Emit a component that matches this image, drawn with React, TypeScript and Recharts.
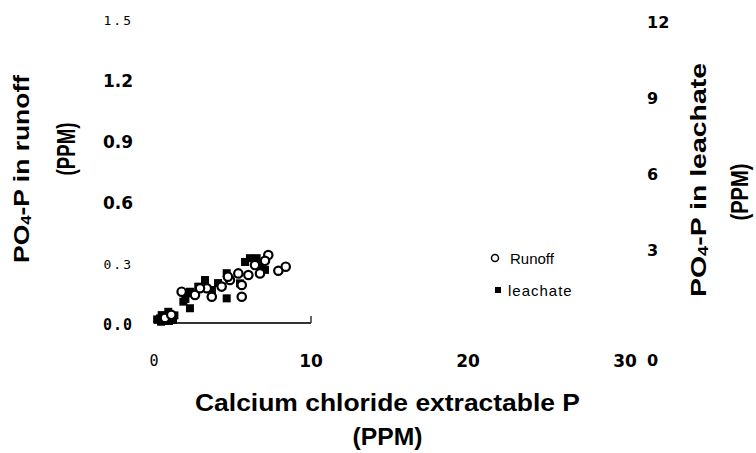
import React from 'react';
import { ScatterChart, Scatter, XAxis, YAxis, Legend, ReferenceLine } from 'recharts';

const xTicks = [0, 10, 20, 30];
const xTickLabels = ['0', '10', '20', '30'];
const leftTicks = [0, 0.3, 0.6, 0.9, 1.2, 1.5];
const leftTickLabels = ['0.0', '0.3', '0.6', '0.9', '1.2', '1.5'];
const rightTicks = [0, 3, 6, 9, 12];
const rightTickLabels = ['0', '3', '6', '9', '12'];

const runoffX = [7.28, 7.07, 6.43, 7.92, 8.39, 6.75, 6.01, 5.37, 4.84, 4.31, 5.59, 3.68, 5.59, 1.76, 3.36, 2.61, 2.93, 4.71, 0.7, 1.1];
const runoffY = [0.334, 0.306, 0.285, 0.257, 0.277, 0.244, 0.236, 0.244, 0.212, 0.179, 0.187, 0.129, 0.129, 0.154, 0.171, 0.138, 0.171, 0.228, 0.025, 0.04];

const leachateX = [6.11, 6.54, 7.07, 4.63, 5.48, 4.63, 3.25, 2.82, 2.29, 1.87, 2.29, 0.38, 0.91, 1.13, 0.57, 4.08, 3.69, 2.08, 0.49, 1.21, 5.8, 6.75, 0.2, 0.75, 0.95, 0.45, 1.3, 2.0];
const leachateY = [2.55, 2.55, 2.09, 1.96, 1.56, 0.97, 1.69, 1.43, 1.23, 0.84, 0.58, 0.18, 0.44, 0.18, 0.12, 1.57, 1.3, 1.17, 0.31, 0.12, 2.4, 2.28, 0.14, 0.28, 0.08, 0.05, 0.3, 0.95];

const runoffData = runoffX.map((x, i) => ({ x, y: runoffY[i] }));
const leachateData = leachateX.map((x, i) => ({ x, y: leachateY[i] }));

const thinFont = { fontFamily: 'DejaVu Sans Mono', fontSize: 13, fontWeight: 400, letterSpacing: 2 };
const boldFont = { fontFamily: 'DejaVu Sans', fontSize: 17, fontWeight: 700 };
const blockFont = { fontFamily: 'DejaVu Sans Mono', fontSize: 15, fontWeight: 700, letterSpacing: 1 };

const findIdx = (arr: number[], v: number) => arr.findIndex((t) => Math.abs(t - v) < 1e-9);

const LeftTick = (props: any) => {
  const { x, y, payload } = props;
  const i = findIdx(leftTicks, payload.value);
  const label = leftTickLabels[i];
  const style = label === '1.5' || label === '0.3' ? thinFont : label === '0.0' ? blockFont : boldFont;
  return (
    <text x={x - 21} y={y + 2} textAnchor="end" dominantBaseline="central" fill="#000" style={style as any}>
      {label}
    </text>
  );
};

const RightTick = (props: any) => {
  const { x, y, payload } = props;
  const i = findIdx(rightTicks, payload.value);
  const label = rightTickLabels[i];
  const isZero = payload.value === 0;
  return (
    <text x={x + 22} y={isZero ? y + 37 : y + 4} textAnchor="start" dominantBaseline="central" fill="#000"
      style={{ fontFamily: 'DejaVu Sans', fontSize: 16, fontWeight: 700 }}>
      {label}
    </text>
  );
};

const BottomTick = (props: any) => {
  const { x, y, payload } = props;
  const i = findIdx(xTicks, payload.value);
  const label = xTickLabels[i];
  const style = label === '0'
    ? { fontFamily: 'DejaVu Sans Mono', fontSize: 15, fontWeight: 400 }
    : { fontFamily: 'DejaVu Sans', fontSize: 17, fontWeight: 700 };
  return (
    <text x={x} y={y + 38} textAnchor="middle" dominantBaseline="central" fill="#000" style={style as any}>
      {label}
    </text>
  );
};

const titleStyle = { fontFamily: 'Liberation Sans, Arial, sans-serif', fontWeight: 700 };

const LeftTitle = (props: any) => {
  const vb = props.viewBox || { x: 0, y: 18 };
  const x1 = vb.x + 21, y1 = vb.y + 151;
  const x2 = vb.x + 66, y2 = vb.y + 131;
  return (
    <g>
      <text transform={`translate(${x1},${y1}) rotate(-90)`} textAnchor="middle" dominantBaseline="central"
        fontSize={22} style={titleStyle} textLength={188} lengthAdjust="spacingAndGlyphs" fill="#000">
        PO<tspan fontSize={14} dy={5}>4</tspan><tspan dy={-5}>-P in runoff</tspan>
      </text>
      <text transform={`translate(${x2},${y2}) rotate(-90)`} textAnchor="middle" dominantBaseline="central"
        fontSize={25} style={titleStyle} textLength={53} lengthAdjust="spacingAndGlyphs" fill="#000">
        (PPM)
      </text>
    </g>
  );
};

const RightTitle = (props: any) => {
  const vb = props.viewBox || { x: 625, y: 18 };
  const x1 = vb.x + 73, y1 = vb.y + 162;
  const x2 = vb.x + 114, y2 = vb.y + 174;
  return (
    <g>
      <text transform={`translate(${x1},${y1}) rotate(-90)`} textAnchor="middle" dominantBaseline="central"
        fontSize={22} style={titleStyle} textLength={234} lengthAdjust="spacingAndGlyphs" fill="#000">
        PO<tspan fontSize={14} dy={5}>4</tspan><tspan dy={-5}>-P in leachate</tspan>
      </text>
      <text transform={`translate(${x2},${y2}) rotate(-90)`} textAnchor="middle" dominantBaseline="central"
        fontSize={24} style={titleStyle} textLength={57} lengthAdjust="spacingAndGlyphs" fill="#000">
        (PPM)
      </text>
    </g>
  );
};

const BottomTitle = (props: any) => {
  const vb = props.viewBox || { x: 154, y: 323, width: 471 };
  const cx = vb.x + vb.width / 2 - 2;
  return (
    <g>
      <text x={cx} y={vb.y + 79} textAnchor="middle" dominantBaseline="central" fontSize={24}
        style={titleStyle} textLength={385} lengthAdjust="spacingAndGlyphs" fill="#000">
        Calcium chloride extractable P
      </text>
      <text x={cx} y={vb.y + 113} textAnchor="middle" dominantBaseline="central" fontSize={24}
        style={titleStyle} textLength={70} lengthAdjust="spacingAndGlyphs" fill="#000">
        (PPM)
      </text>
    </g>
  );
};

const CircleShape = (props: any) => {
  const { cx, cy } = props;
  if (cx == null || cy == null) return null;
  return <circle cx={cx} cy={cy} r={4.2} fill="#fff" stroke="#000" strokeWidth={2.2} />;
};

const SquareShape = (props: any) => {
  const { cx, cy } = props;
  if (cx == null || cy == null) return null;
  return <rect x={cx - 4} y={cy - 4} width={8} height={8} fill="#000" />;
};

const LegendContent = () => (
  <svg width={110} height={56} style={{ display: 'block' }}>
    <circle cx={7} cy={10} r={3.5} fill="#fff" stroke="#000" strokeWidth={1.5} />
    <text x={22} y={10} dominantBaseline="central" fontSize={15} fontFamily="Liberation Sans, Arial, sans-serif" fill="#000">Runoff</text>
    <rect x={7} y={39} width={6} height={6} fill="#000" />
    <text x={20} y={42} dominantBaseline="central" fontSize={15} fontFamily="Liberation Sans, Arial, sans-serif" fill="#000" letterSpacing={1}>leachate</text>
  </svg>
);

export default function App() {
  return (
    <div style={{ position: 'absolute', left: 0, top: 0, background: '#fff' }}>
      <ScatterChart width={756} height={453} margin={{ top: 18, right: 0, bottom: 0, left: 0 }}>
        <XAxis type="number" dataKey="x" domain={[0, 30]} ticks={xTicks} interval={0}
          axisLine={false} tickLine={false} tickSize={0} tickMargin={0} height={130}
          tick={<BottomTick />} label={{ content: <BottomTitle /> } as any} />
        <YAxis yAxisId="left" type="number" dataKey="y" orientation="left" domain={[0, 1.5]} ticks={leftTicks}
          interval={0} axisLine={false} tickLine={false} tickSize={0} tickMargin={0} width={154}
          tick={<LeftTick />} label={{ content: <LeftTitle /> } as any} />
        <YAxis yAxisId="right" type="number" dataKey="y" orientation="right" domain={[0, 12]} ticks={rightTicks}
          interval={0} axisLine={false} tickLine={false} tickSize={0} tickMargin={0} width={131}
          tick={<RightTick />} label={{ content: <RightTitle /> } as any} />
        <ReferenceLine yAxisId="left" segment={[{ x: 0, y: 0 }, { x: 10, y: 0 }]} stroke="#333" strokeWidth={2} ifOverflow="visible" />
        <ReferenceLine yAxisId="left" segment={[{ x: 10, y: 0 }, { x: 10, y: 0.035 }]} stroke="#333" strokeWidth={1.5} ifOverflow="visible" />
        <Legend layout="vertical" align="center" verticalAlign="middle" content={<LegendContent />}
          wrapperStyle={{ left: 488, top: 248, width: 110, height: 56 }} />
        <Scatter name="leachate" yAxisId="right" data={leachateData} shape={<SquareShape />} isAnimationActive={false} />
        <Scatter name="Runoff" yAxisId="left" data={runoffData} shape={<CircleShape />} isAnimationActive={false} />
      </ScatterChart>
    </div>
  );
}
